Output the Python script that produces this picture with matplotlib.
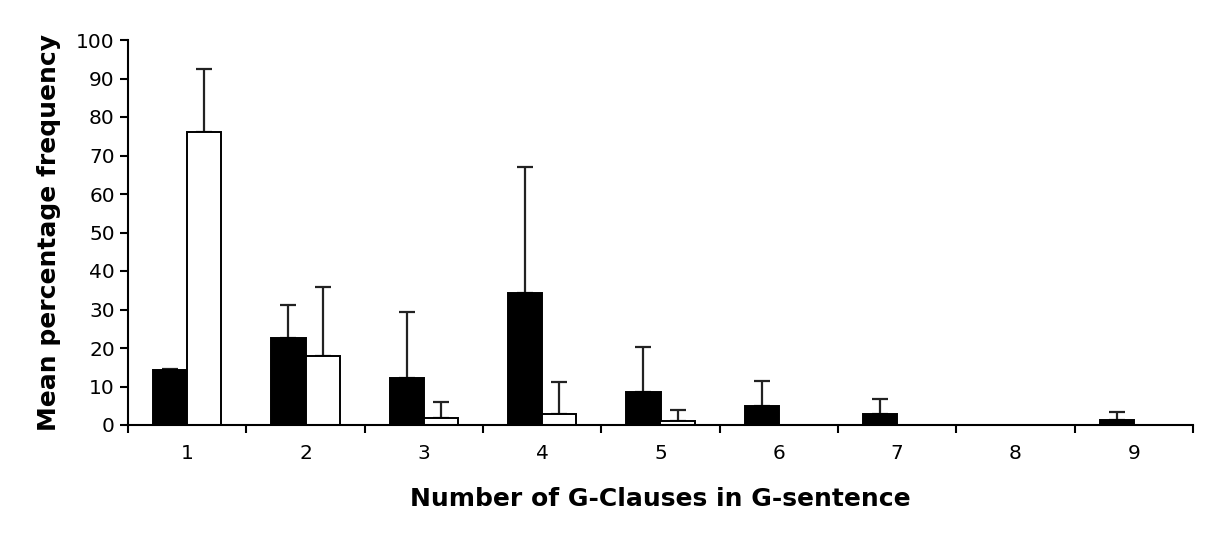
import numpy as np
import matplotlib
matplotlib.use("Agg")
import matplotlib.pyplot as plt

# number of G-clauses per G-sentence
categories = ["1", "2", "3", "4", "5", "6", "7", "8", "9"]

# black bars and their (upper) SD
black_vals = [14.3, 22.5, 12.3, 34.2, 8.5, 5.0, 2.9, 0.0, 1.4]
black_err = [0.2, 8.6, 17.1, 32.8, 11.7, 6.5, 3.8, 0.0, 1.9]

# white bars and their (upper) SD
white_vals = [76.1, 17.9, 1.9, 2.9, 1.0, 0.0, 0.0, 0.0, 0.0]
white_err = [16.4, 17.9, 4.1, 8.3, 2.9, 0.0, 0.0, 0.0, 0.0]

plt.rcParams['font.family'] = ['DejaVu Sans']

fig = plt.figure(figsize=(12.07, 5.34), dpi=100)
ax = fig.add_axes([128 / 1207, 109 / 534, 1065 / 1207, 385 / 534])

x = np.arange(len(categories))
w = 0.29

# only draw the bars that have a value
bx = x - w / 2
wx = x + w / 2
bmask = np.array(black_vals) > 0
wmask = np.array(white_vals) > 0

ax.bar(bx[bmask], np.array(black_vals)[bmask], width=w, color="black",
       edgecolor="black", linewidth=1.4, zorder=2)
ax.bar(wx[wmask], np.array(white_vals)[wmask], width=w, color="white",
       edgecolor="black", linewidth=1.4, zorder=2)

# upper error bars only
ax.errorbar(bx[bmask], np.array(black_vals)[bmask],
            yerr=[np.zeros(bmask.sum()), np.array(black_err)[bmask]],
            fmt="none", ecolor="#222222", elinewidth=1.6, capsize=6, capthick=1.6, zorder=1)
ax.errorbar(wx[wmask], np.array(white_vals)[wmask],
            yerr=[np.zeros(wmask.sum()), np.array(white_err)[wmask]],
            fmt="none", ecolor="#222222", elinewidth=1.6, capsize=6, capthick=1.6, zorder=1)

ax.set_xlim(-0.5, len(categories) - 0.5)
ax.set_ylim(0, 100)
ax.set_yticks(np.arange(0, 101, 10))

# category labels at centres, tick marks at the boundaries
ax.set_xticks(x)
ax.set_xticklabels(categories)
ax.tick_params(axis="x", which="major", length=0, pad=14)
ax.set_xticks(np.arange(-0.5, len(categories)), minor=True)
ax.tick_params(axis="x", which="minor", length=6, width=1.5, direction="out")
ax.tick_params(axis="y", length=6, width=1.5, direction="out")
ax.tick_params(labelsize=14.5)

for s in ["top", "right"]:
    ax.spines[s].set_visible(False)
for s in ["left", "bottom"]:
    ax.spines[s].set_linewidth(1.5)

ax.set_xlabel("Number of G-Clauses in G-sentence", fontsize=18, fontweight="bold", labelpad=17)
ax.set_ylabel("Mean percentage frequency", fontsize=18, fontweight="bold", labelpad=11)

fig.savefig("out.png", dpi=100, facecolor="white")
